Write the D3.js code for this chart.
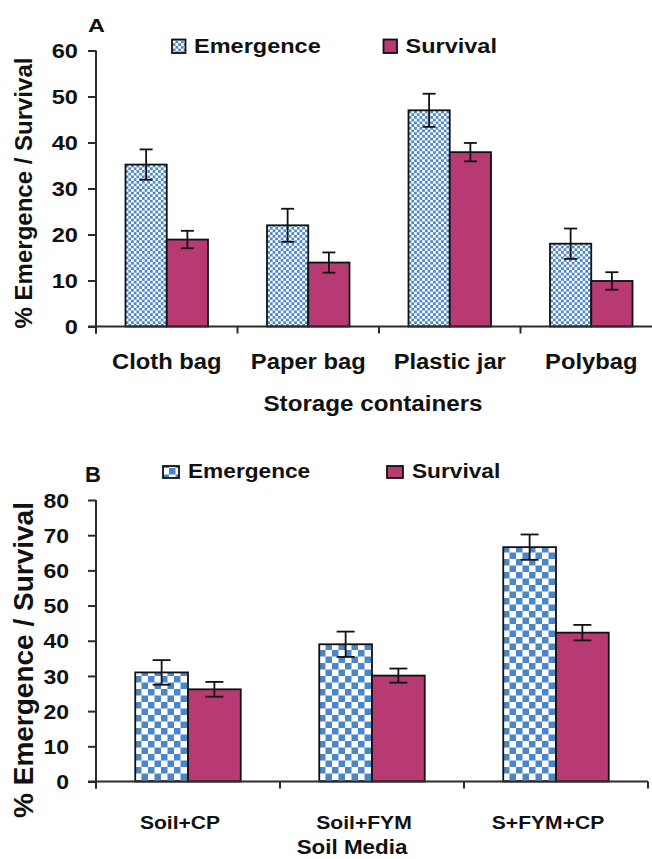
<!DOCTYPE html>
<html>
<head>
<meta charset="utf-8">
<script src="https://cdn.jsdelivr.net/npm/d3@7"></script>
<style>
  body { margin: 0; background: #fff; }
  svg { display: block; }
  text { font-family: "Liberation Sans", Arial, sans-serif; font-weight: bold; fill: #111; }
</style>
</head>
<body>
<svg id="chart" width="652" height="859"></svg>
<script>
// Panel A: storage containers
const containers = ["Cloth bag", "Paper bag", "Plastic jar", "Polybag"];
const emergenceA = [35.2, 22.0, 47.0, 18.0];
const emergenceErrA = [3.3, 3.6, 3.6, 3.3];
const survivalA = [18.9, 13.9, 37.9, 9.9];
const survivalErrA = [1.9, 2.2, 2.0, 1.9];
const yTicksA = [0, 10, 20, 30, 40, 50, 60];

// Panel B: soil media
const media = ["Soil+CP", "Soil+FYM", "S+FYM+CP"];
const emergenceB = [31.0, 39.0, 66.6];
const emergenceErrB = [3.5, 3.6, 3.6];
const survivalB = [26.2, 30.1, 42.3];
const survivalErrB = [2.1, 2.0, 2.2];
const yTicksB = [0, 10, 20, 30, 40, 50, 60, 70, 80];

const seriesNames = ["Emergence", "Survival"];
const yTitle = "% Emergence / Survival";

const BLUE = "#4a86c8";
const MAGENTA = "#b83a73";
const AXIS = "#2b2b2b";

const svg = d3.select("#chart");
const defs = svg.append("defs");

// checkerboard fills: fine for panel A, coarse for panel B
function checker(id, cell) {
  const p = defs.append("pattern")
    .attr("id", id)
    .attr("patternUnits", "userSpaceOnUse")
    .attr("width", cell * 2).attr("height", cell * 2);
  p.append("rect").attr("width", cell * 2).attr("height", cell * 2).attr("fill", "#fff");
  p.append("rect").attr("width", cell).attr("height", cell).attr("fill", BLUE);
  p.append("rect").attr("x", cell).attr("y", cell).attr("width", cell).attr("height", cell).attr("fill", BLUE);
}
checker("chkA", 2.7);
checker("chkB", 6.5);

function label(g, txt, x, y, size, sx, anchor) {
  return g.append("text")
    .attr("transform", `translate(${x},${y}) scale(${sx},1)`)
    .attr("text-anchor", anchor || "start")
    .style("font-size", size + "px")
    .text(txt);
}

function drawPanel(o) {
  const g = svg.append("g");
  const x = d3.scaleBand().domain(o.categories).range([o.left, o.right]).paddingInner(0).paddingOuter(0);
  const xs = d3.scaleBand().domain(seriesNames).range([0, x.bandwidth()]).paddingInner(0).paddingOuter(o.outer);
  const y = d3.scaleLinear().domain([0, o.ymax]).range([o.bottom, o.top]);

  const rows = o.categories.map((c, i) => ({
    cat: c,
    vals: [
      { s: "Emergence", v: o.em[i], e: o.emErr[i] },
      { s: "Survival", v: o.sv[i], e: o.svErr[i] }
    ]
  }));

  const grp = g.selectAll("g.cat").data(rows).join("g")
    .attr("transform", d => `translate(${x(d.cat)},0)`);

  grp.selectAll("rect").data(d => d.vals).join("rect")
    .attr("x", d => xs(d.s))
    .attr("y", d => y(d.v))
    .attr("width", xs.bandwidth())
    .attr("height", d => y(0) - y(d.v))
    .attr("fill", d => d.s === "Emergence" ? `url(#${o.pattern})` : MAGENTA)
    .attr("stroke", "#111")
    .attr("stroke-width", 1.8);

  // error bars
  const eb = grp.selectAll("g.err").data(d => d.vals).join("g")
    .attr("stroke", "#111").attr("stroke-width", 1.8);
  eb.append("line")
    .attr("x1", d => xs(d.s) + xs.bandwidth() / 2).attr("x2", d => xs(d.s) + xs.bandwidth() / 2)
    .attr("y1", d => y(d.v + d.e)).attr("y2", d => y(d.v - d.e));
  [1, -1].forEach(sign => {
    eb.append("line")
      .attr("x1", d => xs(d.s) + xs.bandwidth() / 2 - o.cap / 2)
      .attr("x2", d => xs(d.s) + xs.bandwidth() / 2 + o.cap / 2)
      .attr("y1", d => y(d.v + sign * d.e)).attr("y2", d => y(d.v + sign * d.e));
  });

  // y axis
  const ya = g.append("g").attr("transform", `translate(${o.left},0)`)
    .call(d3.axisLeft(y).tickValues(o.yTicks).tickSize(8).tickSizeOuter(0).tickFormat(d3.format("d")));
  ya.select(".domain").remove();
  ya.selectAll(".tick line").attr("stroke", AXIS).attr("stroke-width", 2);
  ya.selectAll(".tick text")
    .attr("x", null).attr("dy", null)
    .attr("transform", `translate(${o.tickLabelRight - o.left},${o.tickFont * 0.358}) scale(${o.tickSx},1)`)
    .attr("fill", "#111")
    .style("font-size", o.tickFont + "px")
    .style("font-family", null);
  g.append("line")
    .attr("x1", o.left).attr("x2", o.left)
    .attr("y1", y(o.ymax)).attr("y2", y(0) + 7)
    .attr("stroke", AXIS).attr("stroke-width", 2);

  // x axis with ticks at category boundaries
  g.append("line")
    .attr("x1", o.left - 8).attr("x2", o.right)
    .attr("y1", y(0)).attr("y2", y(0))
    .attr("stroke", AXIS).attr("stroke-width", 2);
  const bounds = o.categories.map(c => x(c)).concat([x.range()[1]]);
  g.selectAll("line.xt").data(bounds).join("line")
    .attr("x1", d => d).attr("x2", d => d)
    .attr("y1", y(0)).attr("y2", y(0) + 7)
    .attr("stroke", AXIS).attr("stroke-width", 2);

  // category labels
  o.categories.forEach(c => {
    label(g, c, x(c) + x.bandwidth() / 2 + o.catDx, o.catY, o.catFont, o.catSx, "middle");
  });

  // axis titles
  label(g, o.xTitle, o.xTitleX, o.xTitleY, o.xTitleFont, o.xTitleSx, "middle");
  g.append("text")
    .attr("transform", `translate(${o.yTitleX},${o.yTitleY}) rotate(-90)`)
    .attr("text-anchor", "middle")
    .style("font-size", o.yTitleFont + "px")
    .text(yTitle);

  // panel letter
  label(g, o.letter, o.letterX, o.letterY, o.letterFont, o.letterSx, "start");

  // legend
  seriesNames.forEach((s, i) => {
    const lx = o.legendX[i];
    g.append("rect")
      .attr("x", lx).attr("y", o.legendY)
      .attr("width", o.swatch[0]).attr("height", o.swatch[1])
      .attr("fill", s === "Emergence" ? `url(#${o.pattern})` : MAGENTA)
      .attr("stroke", "#111").attr("stroke-width", 1.8);
    label(g, s, lx + o.legendTextDx, o.legendBase, o.legendFont, o.legendSx, "start");
  });
}

drawPanel({
  categories: containers, em: emergenceA, emErr: emergenceErrA, sv: survivalA, svErr: survivalErrA,
  yTicks: yTicksA, ymax: 60, pattern: "chkA",
  left: 96, right: 662, top: 50.5, bottom: 326.5, outer: 0.715, cap: 13,
  tickLabelRight: 78, tickFont: 20, tickSx: 1.18,
  catY: 369, catFont: 22, catSx: 1.08, catDx: 0,
  xTitle: "Storage containers", xTitleX: 373, xTitleY: 411, xTitleFont: 22, xTitleSx: 1.1,
  yTitleX: 32, yTitleY: 193, yTitleFont: 24,
  letter: "A", letterX: 88, letterY: 32, letterFont: 18, letterSx: 1.3,
  legendX: [172, 383.5], legendY: 39.5, swatch: [13.5, 13.5], legendTextDx: 22, legendBase: 53,
  legendFont: 21, legendSx: 1.12
});

drawPanel({
  categories: media, em: emergenceB, emErr: emergenceErrB, sv: survivalB, svErr: survivalErrB,
  yTicks: yTicksB, ymax: 80, pattern: "chkB",
  left: 96, right: 648, top: 500, bottom: 781.5, outer: 0.744, cap: 18,
  tickLabelRight: 69, tickFont: 20, tickSx: 1.15,
  catY: 829, catFont: 19, catSx: 1.11, catDx: -8,
  xTitle: "Soil Media", xTitleX: 352, xTitleY: 854, xTitleFont: 20, xTitleSx: 1.12,
  yTitleX: 33, yTitleY: 660, yTitleFont: 28,
  letter: "B", letterX: 85, letterY: 482, letterFont: 22, letterSx: 1.0,
  legendX: [163, 387], legendY: 466, swatch: [16, 12], legendTextDx: 25, legendBase: 478,
  legendFont: 21, legendSx: 1.08
});
</script>
</body>
</html>
